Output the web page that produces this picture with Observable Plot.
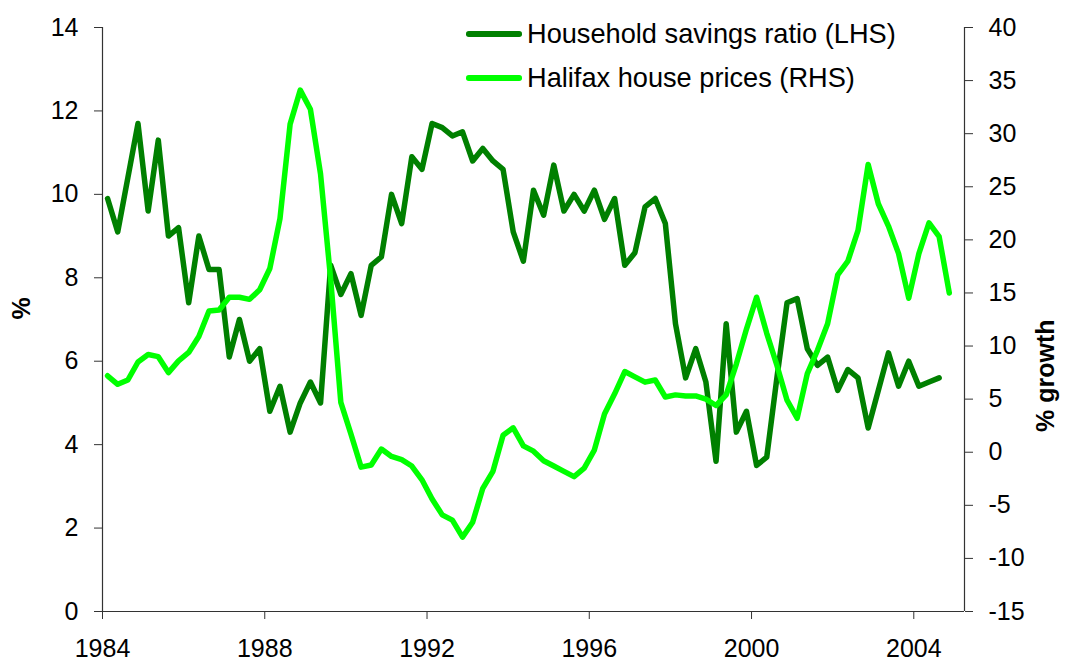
<!DOCTYPE html>
<html>
<head>
<meta charset="utf-8">
<script src="https://cdn.jsdelivr.net/npm/d3@7"></script>
<script src="https://cdn.jsdelivr.net/npm/@observablehq/plot@0.6"></script>
<style>
  body { margin: 0; background: #fff; font-family: "Liberation Sans", Arial, sans-serif; }
  #chart { position: relative; width: 1065px; height: 663px; }
  .legend { position: absolute; left: 466px; top: 12px; font-size: 27.2px; color: #000; }
  .legend .row { display: flex; align-items: center; height: 44px; }
  .legend .swatch { width: 56px; height: 5.5px; border-radius: 2.75px; margin-right: 5px; }
</style>
</head>
<body>
<div id="chart"></div>
<script>
// Quarterly series, first quarter of 1984 onwards
const startYear = 1984;

// Household savings ratio, % (left-hand scale)
const savingsRatio = [
  9.9, 9.1, 10.4, 11.7, 9.6, 11.3, 9.0, 9.2, 7.4, 9.0, 8.2, 8.2,
  6.1, 7.0, 6.0, 6.3, 4.8, 5.4, 4.3, 5.0, 5.5, 5.0, 8.3, 7.6,
  8.1, 7.1, 8.3, 8.5, 10.0, 9.3, 10.9, 10.6, 11.7, 11.6, 11.4, 11.5,
  10.8, 11.1, 10.8, 10.6, 9.1, 8.4, 10.1, 9.5, 10.7, 9.6, 10.0, 9.6,
  10.1, 9.4, 9.9, 8.3, 8.6, 9.7, 9.9, 9.3, 6.9, 5.6, 6.3, 5.5,
  3.6, 6.9, 4.3, 4.8, 3.5, 3.7, 5.6, 7.4, 7.5, 6.3, 5.9, 6.1,
  5.3, 5.8, 5.6, 4.4, 5.3, 6.2, 5.4, 6.0, 5.4, 5.5, 5.6
];

// Halifax house prices, annual % growth (right-hand scale)
const halifaxGrowth = [
  7.2, 6.4, 6.8, 8.5, 9.2, 9.0, 7.5, 8.6, 9.4, 10.9, 13.3, 13.4,
  14.6, 14.6, 14.4, 15.3, 17.3, 22.0, 30.9, 34.1, 32.3, 26.2, 16.3, 4.7,
  1.7, -1.4, -1.2, 0.3, -0.4, -0.7, -1.3, -2.6, -4.4, -5.9, -6.4, -8.0,
  -6.6, -3.4, -1.8, 1.6, 2.3, 0.6, 0.1, -0.8, -1.3, -1.8, -2.3, -1.5,
  0.2, 3.6, 5.5, 7.6, 7.1, 6.6, 6.8, 5.2, 5.4, 5.3, 5.3, 5.0,
  4.4, 5.4, 8.3, 11.6, 14.6, 11.2, 8.2, 4.9, 3.2, 7.4, 9.6, 12.1,
  16.7, 18.0, 20.9, 27.1, 23.4, 21.3, 18.7, 14.5, 18.7, 21.6, 20.3, 15.0
];

const seriesNames = ["Household savings ratio (LHS)", "Halifax house prices (RHS)"];
const seriesColors = ["#008000", "#00ff00"];

const yearTicks = [1984, 1988, 1992, 1996, 2000, 2004];
const lhsTicks = [0, 2, 4, 6, 8, 10, 12, 14];
const rhsTicks = [-15, -10, -5, 0, 5, 10, 15, 20, 25, 30, 35, 40];
const xDomain = [1984, 2005.25];
const lhsDomain = [0, 14];
const rhsDomain = [-15, 40];

// map the right-hand scale onto the left-hand one (and back)
const toLhs = v => lhsDomain[0] + (v - rhsDomain[0]) * (lhsDomain[1] - lhsDomain[0]) / (rhsDomain[1] - rhsDomain[0]);
const toRhs = v => rhsDomain[0] + (v - lhsDomain[0]) * (rhsDomain[1] - rhsDomain[0]) / (lhsDomain[1] - lhsDomain[0]);

// quarters are plotted at mid-quarter
const quarterTime = i => startYear + (i + 0.5) / 4;

const savingsRows = savingsRatio.map((v, i) => ({t: quarterTime(i), v}));
const halifaxRows = halifaxGrowth.map((v, i) => ({t: quarterTime(i), v: toLhs(v)}));

const axisColor = "#333";
const font = "'Liberation Sans', Arial, sans-serif";

const chart = Plot.plot({
  width: 1065,
  height: 663,
  marginLeft: 102,
  marginRight: 101,
  marginTop: 27,
  marginBottom: 52,
  style: {fontFamily: font, fontSize: "25px", color: "#000", background: "#fff", overflow: "visible"},
  x: {domain: xDomain},
  y: {domain: lhsDomain},
  marks: [
    // axis lines
    Plot.ruleX([xDomain[0]], {stroke: axisColor, strokeWidth: 1.2}),
    Plot.ruleX([xDomain[1]], {stroke: axisColor, strokeWidth: 1.2}),
    Plot.ruleY([lhsDomain[0]], {stroke: axisColor, strokeWidth: 1.2}),
    Plot.axisX(yearTicks, {
      anchor: "bottom", tickSize: 8, tickPadding: 20, stroke: axisColor,
      tickFormat: d => String(d), label: null, fill: "#000"
    }),
    Plot.axisY(lhsTicks, {
      anchor: "left", tickSize: 8, tickPadding: 16, stroke: axisColor,
      tickFormat: d => String(d), label: null, fill: "#000"
    }),
    Plot.axisY(rhsTicks.map(toLhs), {
      anchor: "right", tickSize: 8, tickPadding: 16, stroke: axisColor,
      tickFormat: d => String(Math.round(toRhs(d))), label: null, fill: "#000"
    }),
    // axis titles
    Plot.text(["%"], {text: d => d, frameAnchor: "left", rotate: -90, dx: -81, fontWeight: "bold", fill: "#000"}),
    Plot.text(["% growth"], {text: d => d, frameAnchor: "right", rotate: -90, dx: 81, fontWeight: "bold", fill: "#000"}),
    // series
    Plot.line(savingsRows, {x: "t", y: "v", stroke: seriesColors[0], strokeWidth: 5.5, strokeLinejoin: "round", strokeLinecap: "round"}),
    Plot.line(halifaxRows, {x: "t", y: "v", stroke: seriesColors[1], strokeWidth: 5.5, strokeLinejoin: "round", strokeLinecap: "round"})
  ]
});

const host = document.getElementById("chart");
host.appendChild(chart);

// legend
const legend = document.createElement("div");
legend.className = "legend";
seriesNames.forEach((name, i) => {
  const row = document.createElement("div");
  row.className = "row";
  const sw = document.createElement("span");
  sw.className = "swatch";
  sw.style.background = seriesColors[i];
  const label = document.createElement("span");
  label.textContent = name;
  row.appendChild(sw);
  row.appendChild(label);
  legend.appendChild(row);
});
host.appendChild(legend);
</script>
</body>
</html>
